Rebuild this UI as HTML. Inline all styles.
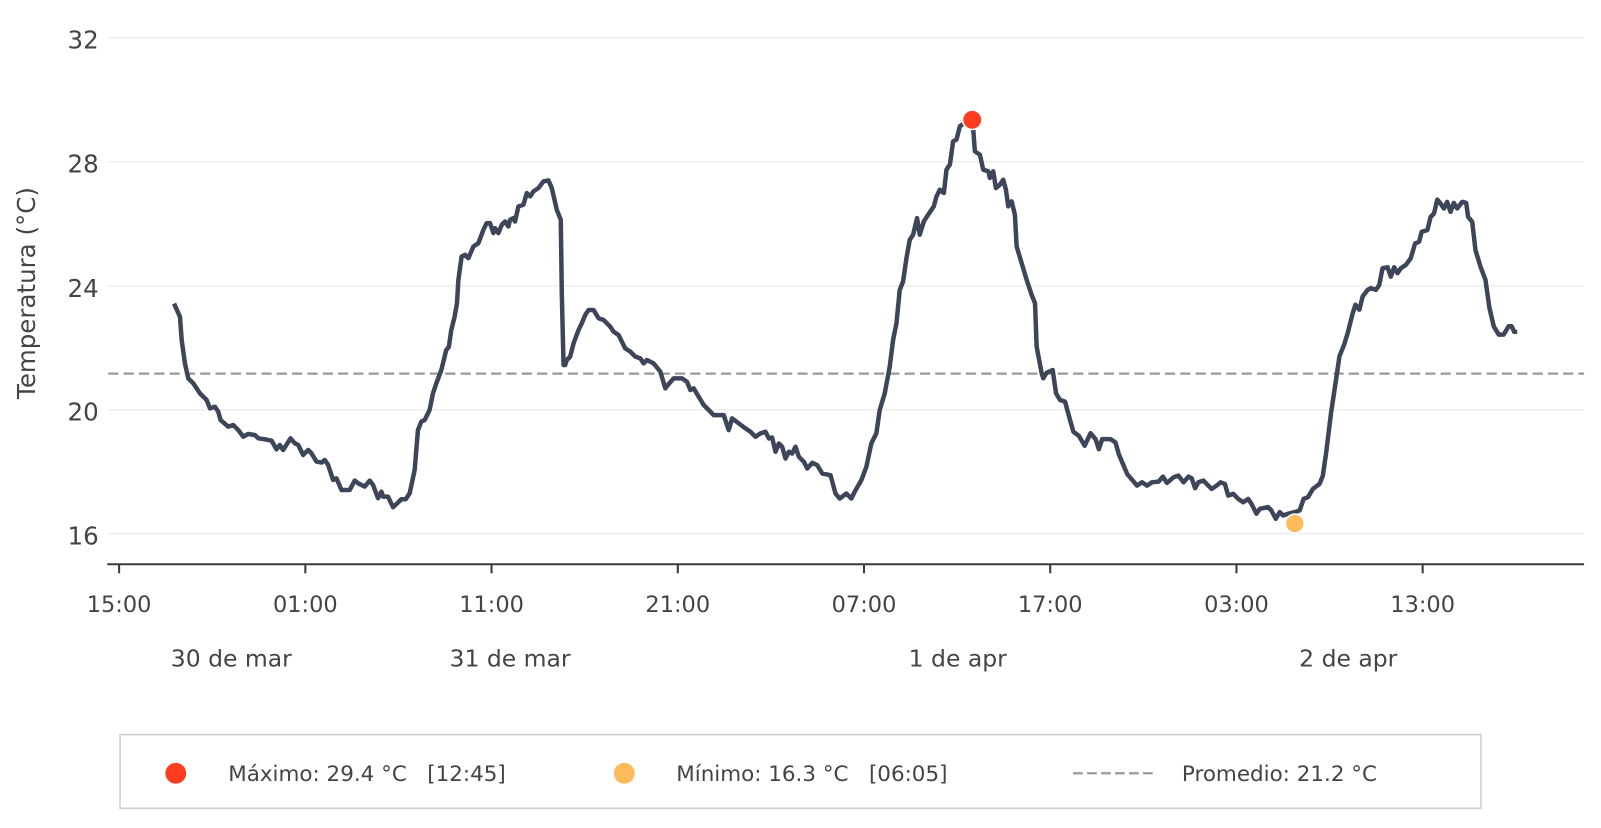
<!DOCTYPE html>
<html>
<head>
<meta charset="utf-8">
<style>
html,body{margin:0;padding:0;background:#fff;}
body{width:1601px;height:828px;overflow:hidden;}
svg{display:block;}
text{font-family:"DejaVu Sans","Liberation Sans",sans-serif;fill:#444;}
</style>
</head>
<body>
<svg width="1601" height="828" viewBox="0 0 1568 811" xmlns="http://www.w3.org/2000/svg">
  <rect x="0" y="0" width="1568" height="811" fill="#fff"/>
  <!-- gridlines -->
  <g stroke="#eeeeee" stroke-width="1.5">
    <line x1="106" y1="36.9" x2="1551.5" y2="36.9"/>
    <line x1="106" y1="158.3" x2="1551.5" y2="158.3"/>
    <line x1="106" y1="280.1" x2="1551.5" y2="280.1"/>
    <line x1="106" y1="401.4" x2="1551.5" y2="401.4"/>
    <line x1="106" y1="522.5" x2="1551.5" y2="522.5"/>
  </g>
  <!-- y tick labels -->
  <g font-size="24" text-anchor="end">
    <text x="96.6" y="47.5">32</text>
    <text x="96.6" y="168.9">28</text>
    <text x="96.6" y="290.7">24</text>
    <text x="96.6" y="412">20</text>
    <text x="96.6" y="533.1">16</text>
  </g>
  <!-- y label -->
  <text font-size="24" text-anchor="middle" transform="translate(34.2,287) rotate(-90)">Temperatura (°C)</text>

  <!-- average dashed line -->
  <line x1="106" y1="366" x2="1551.5" y2="366" stroke="#999" stroke-width="2.2" stroke-dasharray="10 5"/>

  <!-- x axis -->
  <line x1="105" y1="552.7" x2="1551.5" y2="552.7" stroke="#3a3a3a" stroke-width="2"/>
  <g stroke="#3a3a3a" stroke-width="2">
    <line x1="116.6" y1="552.7" x2="116.6" y2="561.5"/>
    <line x1="299" y1="552.7" x2="299" y2="561.5"/>
    <line x1="481.4" y1="552.7" x2="481.4" y2="561.5"/>
    <line x1="663.8" y1="552.7" x2="663.8" y2="561.5"/>
    <line x1="846.2" y1="552.7" x2="846.2" y2="561.5"/>
    <line x1="1028.6" y1="552.7" x2="1028.6" y2="561.5"/>
    <line x1="1211" y1="552.7" x2="1211" y2="561.5"/>
    <line x1="1393.4" y1="552.7" x2="1393.4" y2="561.5"/>
  </g>
  <g font-size="22" text-anchor="middle">
    <text x="116.6" y="599.5">15:00</text>
    <text x="299" y="599.5">01:00</text>
    <text x="481.4" y="599.5">11:00</text>
    <text x="663.8" y="599.5">21:00</text>
    <text x="846.2" y="599.5">07:00</text>
    <text x="1028.6" y="599.5">17:00</text>
    <text x="1211" y="599.5">03:00</text>
    <text x="1393.4" y="599.5">13:00</text>
  </g>
  <g font-size="23" text-anchor="middle">
    <text x="226.5" y="653">30 de mar</text>
    <text x="499.5" y="653">31 de mar</text>
    <text x="938" y="653">1 de apr</text>
    <text x="1320.5" y="653">2 de apr</text>
  </g>

  <!-- series -->
  <polyline fill="none" stroke="#3d4559" stroke-width="4.4" stroke-linejoin="round" stroke-linecap="butt" points="
170.4,297.3 176.2,310.3 177.9,333.2 181.1,356.0 184.4,370.7 189.3,375.5 195.8,385.3 202.3,391.8 205.6,400.0 210.5,398.4 213.7,403.3 216.0,411.4 223.5,417.9 228.4,416.3 233.3,421.2 238.2,427.7 243.1,425.1 249.6,426.1 252.9,429.3 259.4,430.3 265.9,431.6 270.8,440.1 274.0,435.9 277.3,440.7 284.5,429.3 288.7,434.2 292.0,435.9 296.9,445.6 301.8,440.7 305.0,444.0 309.9,452.1 314.8,453.1 318.1,450.5 321.3,455.4 326.2,470.1 329.5,468.5 334.4,479.9 342.5,479.9 347.4,470.7 350.7,473.3 353.9,475.0 357.2,476.6 362.1,470.7 365.3,475.0 370.2,488.0 373.5,481.5 375.1,486.4 380.0,486.4 384.9,496.8 389.8,492.2 393.0,489.0 397.3,489.0 401.2,483.1 406.1,460.3 409.3,421.2 412.6,413.0 415.9,411.4 420.7,401.6 424.0,385.3 427.3,375.5 432.2,362.5 437.0,342.9 439.6,339.7 441.9,323.4 445.2,310.3 447.5,297.3 448.9,274.2
452.1,251.2 455.4,249.6 458.7,252.9 463.6,241.4 468.5,238.2 473.4,225.1 476.6,218.5 479.9,218.5 483.2,228.3 484.8,223.4 488.1,228.3 491.4,220.2 494.6,216.9 497.9,221.8 499.5,215.3 502.8,213.6 504.4,216.9 507.7,202.2 512.6,200.5 515.9,189.1 519.2,192.4 522.4,187.5 527.3,184.2 532.2,177.7 537.1,176.7 540.4,184.2 545.3,205.5 549.2,215.3 550.2,287.2 551.9,357.5 553.5,357.5 555.1,352.6 558.4,349.3 561.7,336.3 566.6,323.2 569.8,316.6 573.1,308.5 576.4,303.6 581.3,303.6 586.2,311.7 591.1,313.4 597.6,319.9 600.9,324.8 605.8,328.1 612.3,341.2 617.3,344.4 622.2,349.3 627.1,351.0 630.3,355.9 633.6,352.6 640.1,355.9 646.7,364.0 651.6,380.4 654.9,376.1 659.8,370.6 667.9,370.6 672.8,373.9 676.1,382.0 679.4,380.4 684.3,388.6 689.2,396.7 694.1,401.6 699.0,406.6 708.8,406.6 713.7,421.3 717.0,409.8 723.5,414.7 730.1,419.6 735.0,422.9 739.9,427.8 744.8,424.5 749.7,422.9 753.0,429.4 756.2,428.5 759.5,442.5 762.8,434.4 766.0,437.6 769.3,449.1 772.6,442.5 775.8,444.2 779.1,437.6 782.4,447.4 787.3,452.3 790.6,458.9 795.5,453.3 800.4,455.6 805.3,463.8 813.4,465.4 818.3,483.4
822.4,488.3 828.9,483.4 833.8,488.3 837.1,481.7 843.6,470.3 848.5,457.2 853.4,434.3 858.3,424.5 861.6,401.6 866.5,385.3 871.4,359.1 874.7,332.9 878.0,316.6 881.2,283.9 884.5,275.7 887.8,252.8 891.0,234.8 894.3,229.9 898.2,213.6 900.8,229.9 904.8,216.9 909.0,210.3 912.3,205.4 914.6,202.1 917.2,192.3 920.5,185.8 924.4,189.1 927.0,166.2 930.3,161.3 933.5,138.4 936.8,136.7 940.1,123.7 945.0,120.4 952.2,117.1 953.2,127 954.8,148.2 959.7,151.5 963.0,166.2 967.9,167.8 969.5,174.3 972.8,167.8 975.4,184.2 979.3,180.9 982.6,176.0 985.2,185.8 987.5,202.1 990.8,197.2 994.0,210.3 995.7,241.4 1000.6,257.7 1005.5,274.1 1010.4,288.8 1013.7,297.0 1015.3,339.5 1020.2,365.6 1021.8,370.5 1025.1,365.0 1031.0,362.4 1034.3,385.3 1038.2,391.8 1043.1,393.4 1048.0,411.4 1051.3,422.9
1056.7,426.9 1062.3,436.6 1068.1,424.3 1073.0,430.1 1076.2,439.9 1079.5,430.1 1087.6,430.1 1092.5,433.3 1095.7,444.7 1103.9,464.2 1113.6,475.6 1118.5,472.4 1123.4,475.6 1128.2,472.4 1134.7,471.7 1139.0,466.8 1142.9,473.0 1149.4,467.5 1154.2,465.9 1159.1,472.4 1164.0,466.8 1167.2,468.5 1170.5,478.2 1173.7,472.4 1178.6,470.7 1186.7,478.9 1191.6,475.6 1195.5,472.4 1199.7,474.0 1202.9,485.4 1207.9,483.7 1212.7,488.6 1217.6,491.9 1222.5,488.6 1225.7,493.5 1230.6,503.2 1233.9,498.4 1242.0,496.7 1245.2,499.9 1249.5,508.1 1253.4,501.6 1256.6,504.9 1261.5,503.2 1268.0,501.6 1272.9,500.0 1276.8,488.6 1281.0,487.0 1285.9,478.9 1292.4,474.0 1295.6,465.9 1298.9,443.1 1303.7,404.1 1308.6,371.6 1311.9,348.9 1316.5,337.5 1320.0,326.1 1324.9,306.6 1327.5,298.5 1331.4,303.3 1334.6,290.4 1339.5,283.9 1342.7,282.2 1347.6,283.9 1350.9,279.0 1354.1,262.7 1359.0,261.8 1362.2,270.9 1365.5,261.8 1368.7,267.6 1372.0,262.7 1376.9,259.5 1381.7,253.0 1386.0,238.4 1389.9,236.7 1392.4,227.0 1398.0,225.4 1401.2,212.4 1404.5,209.1 1407.7,195.5 1410.9,199.4 1414.2,204.2 1417.4,197.7 1420.7,207.5 1423.9,198.7 1427.2,204.2 1432.1,197.7 1436.0,198.7 1437.9,212.4 1441.9,217.2 1445.1,244.9 1450.0,261.1 1454.9,274.1 1458.8,301.7 1463.0,319.6 1467.9,327.7 1472.7,327.7 1477.6,319.6 1480.5,319.5 1483,325 1486,325"/>

  <!-- markers -->
  <circle cx="952.2" cy="117.3" r="9.5" fill="#ff3b1f" stroke="#fff" stroke-width="1.5"/>
  <circle cx="1268.2" cy="512.8" r="9.2" fill="#fdbb5b" stroke="#fff" stroke-width="1.5"/>

  <!-- legend -->
  <rect x="117.5" y="719.5" width="1333" height="72.2" fill="#fff" stroke="#d0d0d0" stroke-width="1.6"/>
  <circle cx="172.1" cy="757.4" r="10.2" fill="#ff3b1f"/>
  <text x="223.5" y="765" font-size="21" xml:space="preserve" style="white-space:pre">Máximo: 29.4 °C   [12:45]</text>
  <circle cx="611.4" cy="757.4" r="10.2" fill="#fdbb5b"/>
  <text x="662.3" y="765" font-size="21" xml:space="preserve" style="white-space:pre">Mínimo: 16.3 °C   [06:05]</text>
  <line x1="1051" y1="757.4" x2="1132" y2="757.4" stroke="#999" stroke-width="2.2" stroke-dasharray="9.5 4.2"/>
  <text x="1157.6" y="765" font-size="21">Promedio: 21.2 °C</text>
</svg>
</body>
</html>
